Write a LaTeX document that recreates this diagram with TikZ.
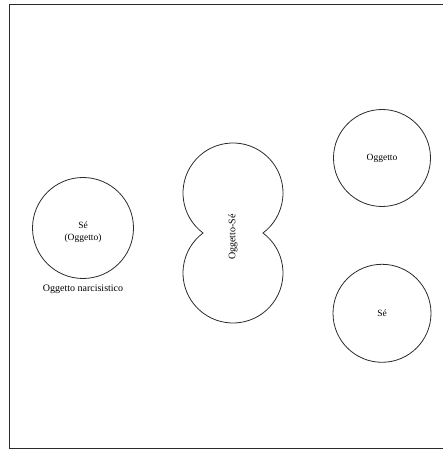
\documentclass[tikz,border=0pt]{standalone}
\usepackage{fontspec}
\setmainfont{Liberation Serif}
\usepackage{tikz}
\usetikzlibrary{positioning}
\definecolor{inkgray}{HTML}{2A2A2A}

\begin{document}
\begin{tikzpicture}[x=1pt, y=1pt,
          blob/.style={draw=inkgray, line width=0.8pt, circle, inner sep=0pt, align=center, font=\fontsize{9.5}{11.5}\selectfont},
          lbl/.style={font=\fontsize{10}{12}\selectfont, inner sep=1pt}]
        \useasboundingbox (0,0) rectangle (443,452);
        % cornice (lato destro tagliato)
        \draw[inkgray, line width=0.8pt] (443,448) -- (9,448) -- (9,4) -- (443,4);
        % oggetto narcisistico
        \node[blob, minimum size=101pt] (sestesso) at (83,224) {};
        \node[blob, draw=none, yshift=-4pt] (sestxt) at (sestesso.center) {Sé\\(Oggetto)};
        \node[lbl, below=5pt of sestesso] (narc) {Oggetto narcisistico};
        % oggetto-sé
        \draw[inkgray, line width=0.8pt] (203,219) arc[start angle=233.13, end angle=-53.13, radius=50]
              arc[start angle=53.13, end angle=-233.13, radius=50] -- cycle;
        \node[lbl, rotate=90] (ogse) at (233,215) {Oggetto-Sé};
        % oggetto e sé separati
        \node[blob, minimum size=97pt] (ogg) at (382,294) {Oggetto};
        \node[blob, minimum size=98pt, below=57pt of ogg] (se) {Sé};
      \end{tikzpicture}
\end{document}
